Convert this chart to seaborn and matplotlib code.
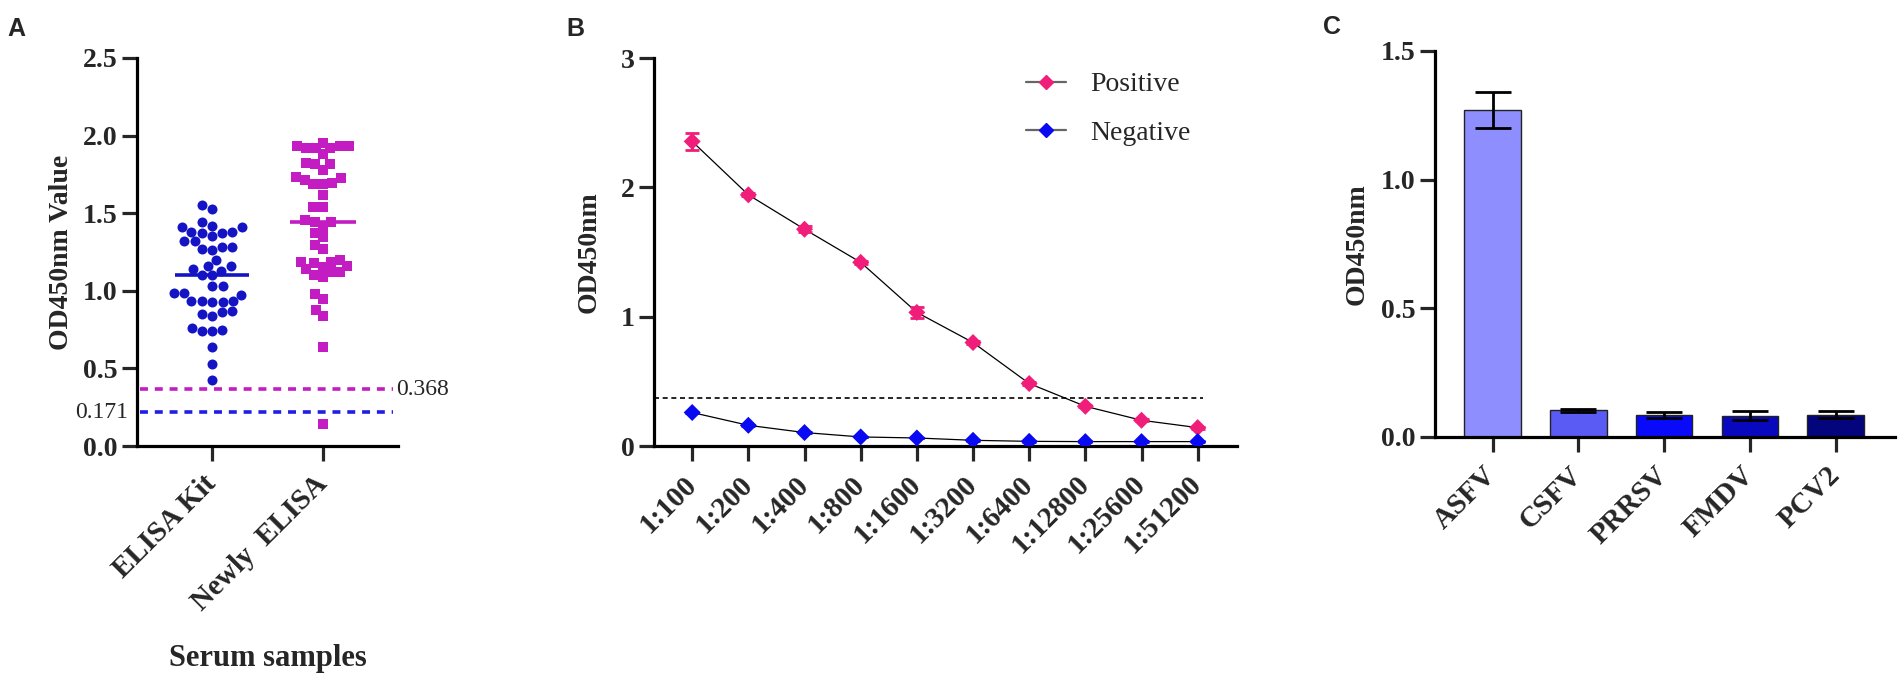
import numpy as np
import pandas as pd
import matplotlib
matplotlib.use("Agg")
import matplotlib.pyplot as plt
import seaborn as sns
from matplotlib.lines import Line2D

# ---------------- data ----------------
# Panel A
groupsA = ["ELISA Kit", "Newly  ELISA"]
kit_values = [1.55, 1.53, 1.445, 1.42, 1.41, 1.41, 1.38, 1.38, 1.37, 1.37, 1.35, 1.32, 1.32,
              1.285, 1.285, 1.27, 1.265, 1.20, 1.16, 1.16, 1.13, 1.14, 1.10, 1.10, 1.03, 1.03,
              0.985, 0.985, 0.975, 0.935, 0.93, 0.93, 0.935, 0.935, 0.87, 0.865, 0.85, 0.84,
              0.76, 0.74, 0.745, 0.74, 0.635, 0.53, 0.425]
new_values = [1.955, 1.918, 1.918, 1.93, 1.933, 1.918, 1.93, 1.88, 1.815, 1.826, 1.815, 1.778,
              1.725, 1.735, 1.714, 1.697, 1.686, 1.686, 1.617, 1.538, 1.538, 1.456, 1.445, 1.445,
              1.413, 1.375, 1.345, 1.295, 1.267, 1.188, 1.188, 1.198, 1.177, 1.155, 1.162, 1.123,
              1.123, 1.138, 1.10, 1.087, 0.977, 0.945, 0.876, 0.838, 0.636, 0.14]
cutoff_labels = ["0.368", "0.171"]
cutoff_lines = [0.365, 0.218]
yticksA = [0.0, 0.5, 1.0, 1.5, 2.0, 2.5]

# Panel B
dilutions = ["1:100", "1:200", "1:400", "1:800", "1:1600", "1:3200", "1:6400",
             "1:12800", "1:25600", "1:51200"]
positive = [2.355, 1.942, 1.676, 1.42, 1.033, 0.80, 0.483, 0.307, 0.199, 0.142]
positive_err = [0.065, 0.012, 0.022, 0.012, 0.045, 0.01, 0.01, 0.008, 0.008, 0.008]
negative = [0.259, 0.16, 0.104, 0.07, 0.062, 0.044, 0.036, 0.034, 0.034, 0.034]
negative_err = [0.005, 0.004, 0.004, 0.003, 0.003, 0.003, 0.003, 0.003, 0.003, 0.003]
cutoffB = 0.368
yticksB = [0, 1, 2, 3]

# Panel C
viruses = ["ASFV", "CSFV", "PRRSV", "FMDV", "PCV2"]
virus_od = [1.27, 0.103, 0.085, 0.083, 0.087]
virus_err = [0.07, 0.007, 0.013, 0.017, 0.014]
yticksC = [0.0, 0.5, 1.0, 1.5]

# ---------------- style ----------------
sns.set_theme(style="ticks")
plt.rcParams["font.family"] = ["Liberation Serif", "DejaVu Serif"]
plt.rcParams["axes.linewidth"] = 2.3
plt.rcParams["xtick.major.width"] = 2.3
plt.rcParams["ytick.major.width"] = 2.3
plt.rcParams["xtick.major.size"] = 10.5
plt.rcParams["ytick.major.size"] = 10.5
plt.rcParams["axes.edgecolor"] = "black"

TICK_FS = 20
XTICK_FS = 21
LAB_FS = 20

BLUE_A = "#1414C4"
MAG_A = "#C21CC2"
PINK = "#F01E7A"
BLUE_B = "#0A0AF2"
bar_colors = ["#8E8EFF", "#5A5AF5", "#0A0AFA", "#0808BE", "#04047C"]

W, H = 1902, 674
fig = plt.figure(figsize=(W / 100, H / 100), dpi=100)


def px_axes(left, right, top, bottom):
    return fig.add_axes([left / W, 1 - bottom / H, (right - left) / W, (bottom - top) / H])


axA = px_axes(137, 398, 58, 446)
axB = px_axes(654, 1237, 58, 446)
axC = px_axes(1435, 1895, 51, 437)

# ---------------- Panel A ----------------
dfA = pd.DataFrame({
    "group": [groupsA[0]] * len(kit_values) + [groupsA[1]] * len(new_values),
    "value": kit_values + new_values,
})
sns.swarmplot(data=dfA[dfA.group == groupsA[0]], x="group", y="value", order=groupsA,
              color=BLUE_A, marker="o", size=7.2, linewidth=0, ax=axA)
sns.swarmplot(data=dfA[dfA.group == groupsA[1]], x="group", y="value", order=groupsA,
              color=MAG_A, marker="s", size=6.6, linewidth=0, ax=axA)
med_kit = np.median(kit_values)
med_new = np.median(new_values)
axA.hlines(med_kit, 0 - 0.33, 0 + 0.33, color=BLUE_A, lw=2.6, zorder=5)
axA.hlines(med_new, 1 - 0.30, 1 + 0.30, color=MAG_A, lw=2.6, zorder=5)
axA.hlines(cutoff_lines[0], -0.65, 1.63, color=MAG_A, lw=2.6, linestyles=(0, (2.2, 1.9)))
axA.hlines(cutoff_lines[1], -0.65, 1.63, color="#1E1EE8", lw=2.6, linestyles=(0, (2.2, 1.9)))
axA.text(1.66, cutoff_lines[0], cutoff_labels[0], fontsize=17, va="center", ha="left")
axA.text(-0.76, cutoff_lines[1], cutoff_labels[1], fontsize=17, va="center", ha="right")
axA.set_xlim(-0.676, 1.676)
axA.set_ylim(0, 2.5)
axA.set_yticks(yticksA)
axA.set_yticklabels([f"{v:.1f}" for v in yticksA], fontsize=TICK_FS, fontweight="bold")
axA.set_xticks(range(len(groupsA)))
axA.set_xticklabels(groupsA, fontsize=XTICK_FS, fontweight="bold", rotation=45,
                    ha="right", va="center", rotation_mode="anchor")
axA.tick_params(axis="x", pad=14)
axA.set_ylabel("OD450nm Value", fontsize=LAB_FS, fontweight="bold", labelpad=6)
axA.set_xlabel("Serum samples", fontsize=22, fontweight="bold", labelpad=20)
sns.despine(ax=axA)

# ---------------- Panel B ----------------
xB = np.arange(len(dilutions))
dfB = pd.DataFrame({
    "x": np.concatenate([xB, xB]),
    "od": positive + negative,
    "sample": ["Positive"] * len(xB) + ["Negative"] * len(xB),
})
sns.lineplot(data=dfB, x="x", y="od", units="sample", estimator=None, color="black",
             lw=0.9, ax=axB, legend=False)
axB.errorbar(xB, positive, yerr=positive_err, fmt="none", ecolor=PINK, elinewidth=2,
             capsize=5, capthick=2, zorder=3)
axB.errorbar(xB, negative, yerr=negative_err, fmt="none", ecolor=BLUE_B, elinewidth=2,
             capsize=5, capthick=2, zorder=3)
sns.scatterplot(data=dfB, x="x", y="od", hue="sample", palette={"Positive": PINK, "Negative": BLUE_B},
                marker="D", s=75, linewidth=0, ax=axB, legend=False, zorder=4)
axB.hlines(cutoffB, -0.68, 9.1, color="black", lw=1.2, linestyles=(0, (3, 2.2)))
axB.set_xlim(-0.68, 9.7)
axB.set_ylim(0, 3)
axB.set_yticks(yticksB)
axB.set_yticklabels([str(v) for v in yticksB], fontsize=TICK_FS, fontweight="bold")
axB.set_xticks(xB)
axB.set_xticklabels(dilutions, fontsize=XTICK_FS, fontweight="bold", rotation=45,
                    ha="right", va="center", rotation_mode="anchor")
axB.tick_params(axis="x", pad=14)
axB.set_xlabel("")
axB.set_ylabel("OD450nm", fontsize=LAB_FS, fontweight="bold", labelpad=14)
handles = [Line2D([0], [0], color="#666666", lw=1.6, marker="D", markersize=7,
                  markerfacecolor=PINK, markeredgecolor=PINK),
           Line2D([0], [0], color="#666666", lw=1.6, marker="D", markersize=7,
                  markerfacecolor=BLUE_B, markeredgecolor=BLUE_B)]
axB.legend(handles, ["Positive", "Negative"], frameon=False, fontsize=20,
           loc="upper left", bbox_to_anchor=((1026 - 654) / 583, (446 - 72) / 388),
           borderaxespad=0, borderpad=0, handlelength=1.45, handletextpad=0.85,
           labelspacing=0.82)
sns.despine(ax=axB)

# ---------------- Panel C ----------------
dfC = pd.DataFrame({"virus": viruses, "od": virus_od})
sns.barplot(data=dfC, x="virus", y="od", hue="virus", palette=bar_colors, order=viruses,
            width=0.66, edgecolor="#222222", linewidth=1.0, legend=False, ax=axC,
            errorbar=None, saturation=1)
axC.errorbar(np.arange(len(viruses)), virus_od, yerr=virus_err, fmt="none", ecolor="black",
             elinewidth=2, capsize=13, capthick=2, zorder=5)
axC.set_xlim(-0.67, 4.69)
axC.set_ylim(0, 1.5)
axC.set_yticks(yticksC)
axC.set_yticklabels([f"{v:.1f}" for v in yticksC], fontsize=TICK_FS, fontweight="bold")
axC.set_xticks(range(len(viruses)))
axC.set_xticklabels(viruses, fontsize=XTICK_FS, fontweight="bold", rotation=45,
                    ha="right", va="center", rotation_mode="anchor")
axC.tick_params(axis="x", pad=14)
axC.set_xlabel("")
axC.set_ylabel("OD450nm", fontsize=LAB_FS, fontweight="bold", labelpad=8)
sns.despine(ax=axC)

# panel letters
for lab, xpx, ypx in [("A", 7, 17), ("B", 566, 17), ("C", 1323, 15)]:
    fig.text(xpx / W, 1 - ypx / H, lab, fontsize=18, fontweight="bold",
             family=["Liberation Sans", "DejaVu Sans"], ha="left", va="top")

fig.savefig("out.png", dpi=100)
